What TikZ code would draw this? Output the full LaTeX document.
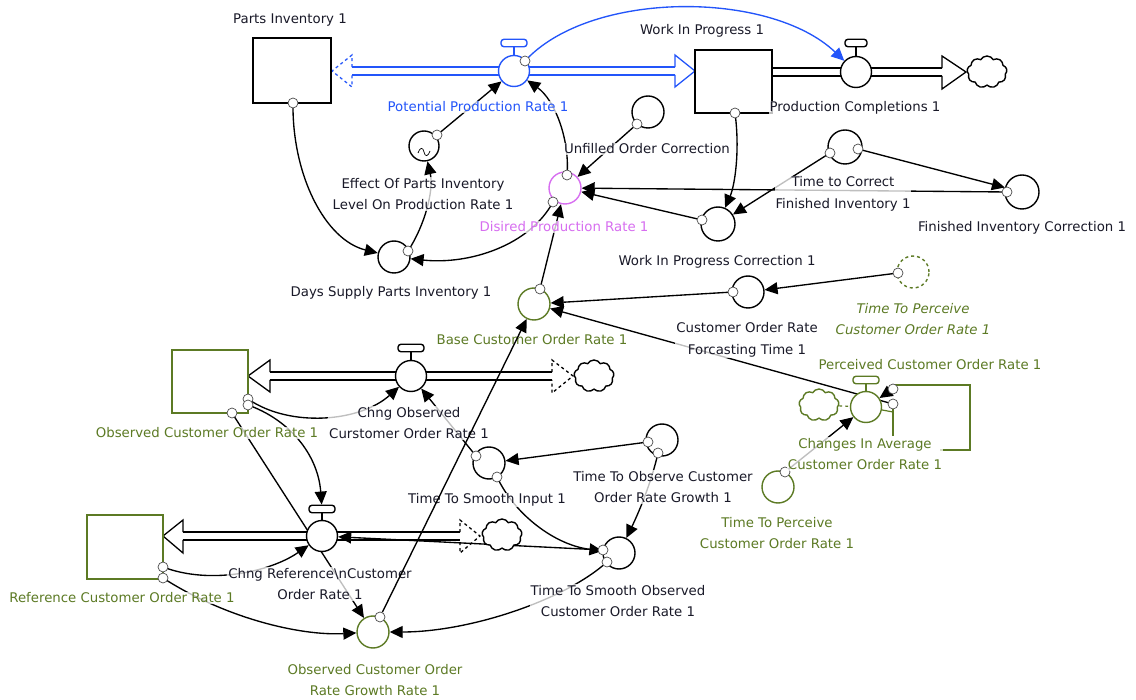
\documentclass[tikz,border=0pt]{standalone}
\usepackage{fontspec}
\setmainfont{DejaVu Sans}
\usetikzlibrary{arrows.meta,shapes.symbols}
\definecolor{vblue}{RGB}{35,85,250}
\definecolor{vmag}{RGB}{215,110,240}
\definecolor{vgreen}{RGB}{92,122,36}
\definecolor{vtxt}{RGB}{25,25,40}
\pgfdeclarelayer{back}
\pgfsetlayers{back,main}
\tikzset{
  aux/.style={circle, draw, fill=white, line width=1.4pt, minimum size=32pt, inner sep=0pt},
  stockbox/.style={rectangle, draw, fill=white, line width=1.4pt, inner sep=0pt},
  valvec/.style={circle, draw, fill=white, line width=1.4pt, minimum size=31pt, inner sep=0pt},
  valvebar/.style={rectangle, rounded corners=3pt, draw, fill=white, line width=1.4pt, minimum width=26pt, minimum height=7.5pt, inner sep=0pt},
  port/.style={circle, draw=black!70, fill=white, line width=0.7pt, minimum size=10pt, inner sep=0pt},
  conn/.style={line width=1.35pt, -{Triangle[length=13pt,width=12pt]}},
  pipe/.style={line width=1.3pt, double=white, double distance=6.5pt},
  headline/.style={line width=1.3pt, line join=miter},
  cloudn/.style={cloud, cloud puffs=9, cloud puff arc=120, aspect=1.25, draw, line width=1.4pt, fill=white, minimum width=40pt, minimum height=32pt, inner sep=0pt},
  lab/.style={text=vtxt, fill=white, fill opacity=0.75, text opacity=1, inner sep=1pt, align=center, font=\fontsize{13.3}{21.5}\selectfont},
}
\begin{document}
\begin{tikzpicture}[x=1pt,y=-1pt]
\useasboundingbox (0,0) rectangle (1136,700);

% ---------- stocks ----------
\node[stockbox, minimum width=78pt, minimum height=65pt] (pi) at (292,70.5) {};
\node[stockbox, minimum width=77pt, minimum height=63pt] (wip) at (733.5,81.5) {};
\node[stockbox, draw=vgreen, minimum width=76pt, minimum height=63pt] (ocor) at (210,381.5) {};
\node[stockbox, draw=vgreen, minimum width=76pt, minimum height=64pt] (rcor) at (125,547) {};
\coordinate (pcor) at (931,417);
\draw[vgreen, line width=1.4pt] (895,385) -- (970,385) -- (970,450) -- (940,450);
\draw[vgreen, line width=1.4pt] (893,407) -- (893,436);

% ---------- flows: pipes, heads, clouds ----------
\coordinate (pihead) at (352,71);
\coordinate (wiphead) at (675,71);
\coordinate (pcstart) at (772,72);
\coordinate (pchead) at (942,72);
\coordinate (ocorhead) at (270,376);
\coordinate (cohead) at (552,376);
\coordinate (rcorhead) at (183,536);
\coordinate (crhead) at (460,536);

\node[cloudn] (pccloud) at (987,72) {};
\node[cloudn] (cocloud) at (594,376) {};
\node[cloudn] (crcloud) at (502,535) {};
\node[cloudn, draw=vgreen] (caccloud) at (819,405) {};

% valves
\node[valvec, draw=vblue] (ppr) at (514,71) {};
\node[valvebar, draw=vblue] (pprbar) at (514,43) {};
\node[valvec] (pc) at (856,72) {};
\node[valvebar, minimum width=22pt] (pcbar) at (856,43) {};
\node[valvec] (co) at (411,376) {};
\node[valvebar] (cobar) at (411,348) {};
\node[valvec] (cr) at (322,536) {};
\node[valvebar] (crbar) at (322,509) {};
\node[valvec, draw=vgreen] (cac) at (866,407) {};
\node[valvebar, draw=vgreen] (cacbar) at (866,380) {};

% ---------- auxiliaries ----------
\node[aux, minimum size=30pt] (epil) at (424,146) {};
\draw[line width=0.7pt] (418,153) .. controls (420,147) and (423,147) .. (424,152) .. controls (425,157) and (428,157) .. (430,151);
\node[aux] (dspi) at (394,257) {};
\node[aux] (uoc) at (648,112) {};
\node[aux, draw=vmag] (dpr) at (565,188) {};
\node[aux, minimum size=34pt] (wipc) at (718,224) {};
\node[aux, minimum size=34pt] (tcfi) at (845,147) {};
\node[aux, minimum size=34pt] (fic) at (1022,192) {};
\node[aux, draw=vgreen] (bcor) at (534,304) {};
\node[aux] (corft) at (748,292) {};
\node[aux, draw=vgreen, dashed] (ttpg) at (913,272) {};
\node[aux, draw=vgreen] (ttp) at (778,487) {};
\node[aux] (ttsi) at (489,463) {};
\node[aux] (ttocg) at (662,440) {};
\node[aux] (ttso) at (619,553) {};
\node[aux, draw=vgreen] (ocogr) at (373,632) {};

% ---------- ports ----------
\node[port] (pi_o) at (293,103) {};
\node[port] (ppr_o) at (525,61) {};
\node[port] (epil_o) at (437,135) {};
\node[port] (dspi_o) at (408,251) {};
\node[port] (dpr_o1) at (567,175) {};
\node[port] (dpr_o2) at (553,202) {};
\node[port] (uoc_o) at (637,124) {};
\node[port] (wip_o) at (735,113) {};
\node[port] (wipc_o) at (702,220) {};
\node[port] (tcfi_o1) at (830,153) {};
\node[port] (tcfi_o2) at (858,149) {};
\node[port] (fic_o) at (1007,192) {};
\node[port] (bcor_o) at (540,289) {};
\node[port] (corft_o) at (733,292) {};
\node[port] (pcor_o1) at (893,389) {};
\node[port] (pcor_o2) at (893,404) {};
\node[port] (ttpg_o) at (898,273) {};
\node[port] (ttp_o) at (785,472) {};
\node[port] (ocor_o1) at (248,399) {};
\node[port] (ocor_o2) at (248,405) {};
\node[port] (ocor_o3) at (232,413) {};
\node[port] (rcor_o1) at (163,567) {};
\node[port] (rcor_o2) at (163,578) {};
\node[port] (ttsi_o1) at (476,456) {};
\node[port] (ttsi_o2) at (497,477) {};
\node[port] (ttocg_o1) at (648,442) {};
\node[port] (ttocg_o2) at (658,453) {};
\node[port] (ttso_o1) at (603,550) {};
\node[port] (ttso_o2) at (607,562) {};
\node[port] (ocogr_o) at (380,617) {};

\begin{pgfonlayer}{back}
% pipes
\draw[pipe, draw=vblue] (pihead) -- (wiphead);
\draw[pipe] (pcstart) -- (pchead);
\draw[pipe] (ocorhead) -- (cohead);
\draw[pipe] (rcorhead) -- (crhead);
% heads
\draw[headline, vblue, dashed] (352,67.2) -- (352,55) -- (332,71) -- (352,87) -- (352,74.8);
\draw[headline, vblue] (675,67.2) -- (675,55) -- (695,71) -- (675,87) -- (675,74.8);
\draw[headline] (942,68.2) -- (942,56) -- (966,72) -- (942,89) -- (942,75.8);
\draw[headline] (270,372.2) -- (270,360) -- (248,376) -- (270,392) -- (270,379.8);
\draw[headline, dashed] (552,372.2) -- (552,360) -- (573,376) -- (552,393) -- (552,379.8);
\draw[headline] (183,532.2) -- (183,520) -- (163,536) -- (183,553) -- (183,539.8);
\draw[headline, dashed] (460,532.2) -- (460,520) -- (480,536) -- (460,553) -- (460,539.8);
\draw[vgreen, line width=1.2pt, dashed] (caccloud) -- (cac);
\draw[vgreen, line width=1.2pt] (cac) -- (893,412);
% valve stems
\draw[line width=1.4pt, vblue] (pprbar) -- (ppr);
\draw[line width=1.4pt] (pcbar) -- (pc);
\draw[line width=1.4pt] (cobar) -- (co);
\draw[line width=1.4pt] (crbar) -- (cr);
\draw[line width=1.4pt, vgreen] (cacbar) -- (cac);

% connectors
\draw[conn, vblue] (ppr_o.center) .. controls (590,-10) and (770,-10) .. (pc);
\draw[conn] (epil_o.center) -- (ppr);
\draw[conn] (dspi_o.center) .. controls (425,225) and (434,190) .. (epil);
\draw[conn] (pi_o.center) .. controls (292,175) and (325,240) .. (dspi);
\draw[conn] (dpr_o2.center) .. controls (530,245) and (470,265) .. (dspi);
\draw[conn] (dpr_o1.center) .. controls (570,140) and (555,100) .. (ppr);
\draw[conn] (uoc_o.center) -- (dpr);
\draw[conn] (wip_o.center) .. controls (740,150) and (735,185) .. (wipc);
\draw[conn] (tcfi_o1.center) -- (wipc);
\draw[conn] (tcfi_o2.center) -- (fic);
\draw[conn] (fic_o.center) -- (dpr);
\draw[conn] (wipc_o.center) -- (dpr);
\draw[conn] (bcor_o.center) -- (dpr);
\draw[conn] (corft_o.center) -- (bcor);
\draw[conn] (pcor_o2.center) -- (bcor);
\draw[conn] (ttpg_o.center) -- (corft);
\draw[conn] (pcor_o1.center) -- (cac);
\draw[conn] (ttp_o.center) -- (cac);
\draw[conn] (ocor_o1.center) .. controls (290,428) and (360,422) .. (co);
\draw[conn] (ocor_o2.center) .. controls (290,420) and (318,455) .. (crbar);
\draw[conn] (ocor_o3.center) -- (ocogr);
\draw[conn] (rcor_o1.center) .. controls (210,585) and (270,572) .. (cr);
\draw[conn] (rcor_o2.center) .. controls (225,618) and (300,636) .. (ocogr);
\draw[conn] (ttsi_o1.center) -- (co);
\draw[conn] (ttsi_o2.center) .. controls (515,515) and (555,545) .. (ttso);
\draw[conn] (ttocg_o1.center) -- (ttsi);
\draw[conn] (ttocg_o2.center) .. controls (652,480) and (640,510) .. (ttso);
\draw[conn] (ttso_o1.center) -- (cr);
\draw[conn] (ttso_o2.center) .. controls (565,600) and (470,632) .. (ocogr);
\end{pgfonlayer}

% ---------- labels ----------
\node[lab] (l_pi) at (290,20) {Parts Inventory 1};
\node[lab] (l_wip) at (702,31) {Work In Progress 1};
\node[lab, text=vblue] (l_ppr) at (478,107) {Potential Production Rate 1};
\node[lab] (l_pc) at (855,108) {Production Completions 1};
\node[lab] (l_uoc) at (647,149) {Unfilled Order Correction};
\node[lab] (l_epil) at (423,194) {Effect Of Parts Inventory\\Level On Production Rate 1};
\node[lab, text=vmag] (l_dpr) at (564,227) {Disired Production Rate 1};
\node[lab] (l_tcfi) at (843,194) {Time to Correct\\Finished Inventory 1};
\node[lab] (l_fic) at (1022,228) {Finished Inventory Correction 1};
\node[lab] (l_dspi) at (391,293) {Days Supply Parts Inventory 1};
\node[lab] (l_wipc) at (717,262) {Work In Progress Correction 1};
\node[lab, text=vgreen, font=\fontsize{13.3}{21.5}\selectfont\itshape] (l_ttpg) at (913,319) {Time To Perceive\\Customer Order Rate 1};
\node[lab] (l_corft) at (747,340) {Customer Order Rate\\Forcasting Time 1};
\node[lab, text=vgreen] (l_bcor) at (532,340) {Base Customer Order Rate 1};
\node[lab, text=vgreen] (l_pcor) at (930,365) {Perceived Customer Order Rate 1};
\node[lab, text=vgreen] (l_ocor) at (207,433) {Observed Customer Order Rate 1};
\node[lab] (l_co) at (409,423) {Chng Observed\\Curstomer Order Rate 1};
\node[lab, text=vgreen] (l_cac) at (865,454) {Changes In Average\\Customer Order Rate 1};
\node[lab] (l_ttocg) at (663,487) {Time To Observe Customer\\Order Rate Growth 1};
\node[lab] (l_ttsi) at (487,500) {Time To Smooth Input 1};
\node[lab, text=vgreen] (l_ttp) at (777,533) {Time To Perceive\\Customer Order Rate 1};
\node[lab] (l_cr) at (320,584) {Chng Reference\textbackslash nCustomer\\Order Rate 1};
\node[lab] (l_ttso) at (618,601) {Time To Smooth Observed\\Customer Order Rate 1};
\node[lab, text=vgreen] (l_rcor) at (122,598) {Reference Customer Order Rate 1};
\node[lab, text=vgreen] (l_ocogr) at (375,680) {Observed Customer Order\\Rate Growth Rate 1};

% connector drawn over the labels, as in the reference
\draw[conn] (ocogr_o) -- (bcor);
\end{tikzpicture}
\end{document}
